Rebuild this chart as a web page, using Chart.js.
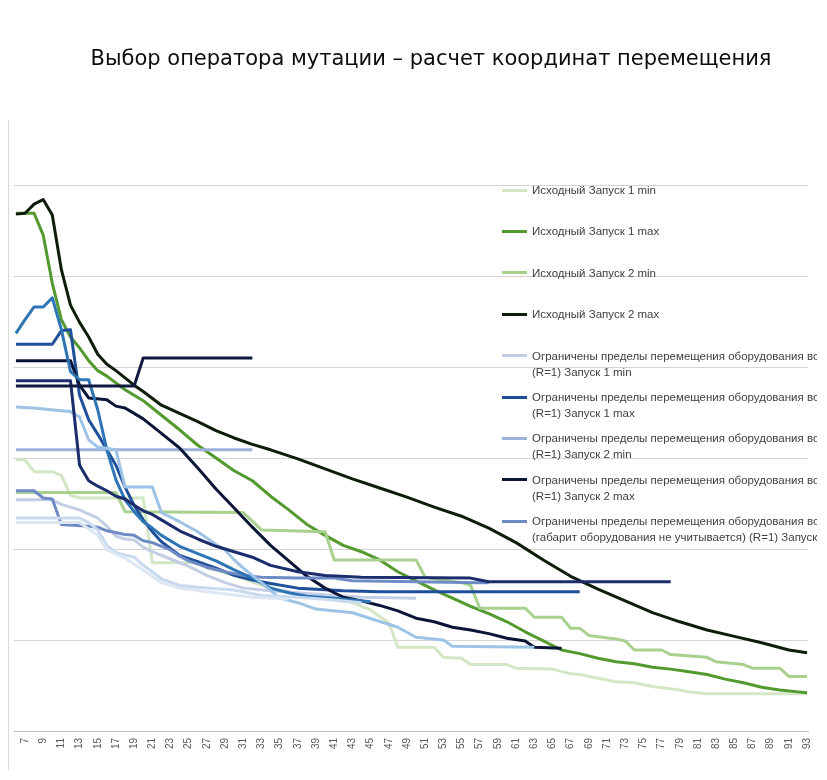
<!DOCTYPE html>
<html>
<head>
<meta charset="utf-8">
<script src="https://cdn.jsdelivr.net/npm/chart.js@4.4.1/dist/chart.umd.min.js"></script>
<style>
  html, body { margin: 0; padding: 0; background: #fff; }
  #wrap { position: relative; width: 827px; height: 780px; overflow: hidden; background: #fff; }
  #c { position: absolute; left: 0; top: 0; }
  #title { position: absolute; left: 0; width: 862px; top: 45px; text-align: center;
           font-family: "DejaVu Sans", sans-serif; font-size: 21px; line-height: 26px; color: #0d0d0d; white-space: nowrap; }
  #frame { position: absolute; left: 8px; top: 120px; width: 1px; height: 650px; background: #d9d9d9; }
  #legend { position: absolute; left: 502px; top: 170px; width: 315px; height: 400px; overflow: hidden; }
  .li { position: absolute; left: 0; width: 400px; }
  .sw { position: absolute; left: 0; width: 25px; height: 3px; }
  .tx { position: absolute; left: 30px; top: 0; font-family: "Liberation Sans", Arial, sans-serif; font-size: 11.5px;
        line-height: 16px; color: #404040; white-space: nowrap; }
</style>
</head>
<body>
<div id="wrap">
  <canvas id="c" width="827" height="780"></canvas>
  <div id="frame"></div>
  <div id="title">Выбор оператора мутации – расчет координат перемещения</div>
  <div id="legend"></div>
</div>
<script>
// ---- axis labels ----
const xTickLabels = [7,9,11,13,15,17,19,21,23,25,27,29,31,33,35,37,39,41,43,45,47,49,51,53,55,57,59,61,63,65,67,69,71,73,75,77,79,81,83,85,87,89,91,93];
const yGridValues = [0,10,20,30,40,50,60];

// ---- series names ----
const seriesNames = [
  "Исходный Запуск 1 min",
  "Исходный Запуск 1 max",
  "Исходный Запуск 2 min",
  "Исходный Запуск 2 max",
  "Ограничены пределы перемещения оборудования во всех направлениях (R=1) Запуск 1 min",
  "Ограничены пределы перемещения оборудования во всех направлениях (R=1) Запуск 1 max",
  "Ограничены пределы перемещения оборудования во всех направлениях (R=1) Запуск 2 min",
  "Ограничены пределы перемещения оборудования во всех направлениях (R=1) Запуск 2 max",
  "Ограничены пределы перемещения оборудования во всех направлениях (габарит оборудования не учитывается) (R=1) Запуск 1 min",
  "Ограничены пределы перемещения оборудования во всех направлениях (габарит оборудования не учитывается) (R=1) Запуск 1 max",
  "Ограничены пределы перемещения оборудования во всех направлениях (габарит оборудования не учитывается) (R=1) Запуск 2 min",
  "Ограничены пределы перемещения оборудования во всех направлениях (габарит оборудования не учитывается) (R=1) Запуск 2 max",
  "Ограничены пределы перемещения (R=2) Запуск 1 max",
  "Ограничены пределы перемещения (R=2) Запуск 1 min",
  "Ограничены пределы перемещения (R=2) Запуск 2 min"
];
const legendLines = [
  ["Исходный Запуск 1 min"],
  ["Исходный Запуск 1 max"],
  ["Исходный Запуск 2 min"],
  ["Исходный Запуск 2 max"],
  ["Ограничены пределы перемещения оборудования во всех направлениях", "(R=1) Запуск 1 min"],
  ["Ограничены пределы перемещения оборудования во всех направлениях", "(R=1) Запуск 1 max"],
  ["Ограничены пределы перемещения оборудования во всех направлениях", "(R=1) Запуск 2 min"],
  ["Ограничены пределы перемещения оборудования во всех направлениях", "(R=1) Запуск 2 max"],
  ["Ограничены пределы перемещения оборудования во всех направлениях", "(габарит оборудования не учитывается) (R=1) Запуск 1 min"]
];
const seriesColors = ["#d3e6c5","#539a2e","#a9d18e","#0e1d0a","#c3cee6","#1f4e9a","#9cb2d8","#0b1538","#6f8bc6","#2e75b6","#9dc3e6","#1c2d6e","#10183f","#c9daf0","#dce7f4"];

// ---- series values (generation x, value y) ----
const ish1MinX = [6,7,8,10,11,12,13,20,21,26,27,30,33,36,40,43,45,47,48,52,53,55,56,60,61,65,67,68,71,72,74,76,79,80,82,93];
const ish1MinY = [29.8,29.8,28.5,28.5,28.1,25.9,25.6,25.6,18.5,18.5,17.9,17.1,16.0,15.3,14.6,14.1,13.3,11.9,9.2,9.2,8.1,8.0,7.3,7.3,6.9,6.8,6.3,6.2,5.6,5.4,5.3,4.9,4.5,4.3,4.1,4.1];

const ish1MaxX = [6,8,9,10,11,12,13,14,15,16,18,20,22,24,26,28,30,32,34,36,38,40,42,44,46,48,50,52,54,56,58,60,62,64,66,68,70,72,74,76,78,80,82,84,86,88,90,92,93];
const ish1MaxY = [56.9,56.9,54.5,49.2,45.2,43.3,42.1,40.7,39.6,39.0,37.5,36.3,34.7,33.1,31.4,30.0,28.6,27.5,25.8,24.3,22.7,21.5,20.4,19.7,18.8,17.5,16.5,15.5,14.6,13.7,12.9,12.0,10.9,9.9,8.9,8.5,8.0,7.6,7.4,7.0,6.8,6.5,6.2,5.7,5.3,4.8,4.5,4.3,4.2];

const ish2MinX = [6,17,18,31,33,40,41,50,51,55,56,57,62,63,66,67,68,69,72,73,74,77,78,82,83,86,87,90,91,93];
const ish2MinY = [26.2,26.2,24.1,24.0,22.1,21.9,18.8,18.8,16.9,16.3,16.0,13.5,13.5,12.5,12.5,11.3,11.3,10.5,10.1,9.9,8.9,8.9,8.4,8.1,7.6,7.3,6.9,6.9,6.0,6.0];

const ish2MaxX = [6,7,8,9,10,11,12,13,14,15,16,17,18,19,20,22,24,26,28,30,32,34,37,40,43,46,49,52,55,58,61,64,67,70,73,76,79,82,85,88,91,93];
const ish2MaxY = [56.8,56.9,57.9,58.4,56.7,50.7,46.8,44.9,43.3,41.4,40.3,39.6,38.8,38.0,37.3,35.8,34.9,34.0,33.0,32.2,31.5,30.9,29.9,28.8,27.7,26.7,25.7,24.6,23.6,22.3,20.7,18.8,17.0,15.6,14.3,13.0,12.0,11.1,10.4,9.7,8.9,8.6];

const ogr1MinX = [6,10,11,13,15,16,17,18,19,20,21,23,25,27,29,31,34,38,44,50];
const ogr1MinY = [25.4,25.4,24.9,24.3,23.4,22.5,21.4,21.1,21.0,20.2,19.7,18.9,18.1,17.1,16.3,15.7,15.4,15.1,14.7,14.6];

const ogr1MaxX = [6,10,11,12,13,14,15,16,17,18,19,20,21,22,24,26,28,30,32,34,37,42,46,68];
const ogr1MaxY = [42.5,42.5,44.0,44.1,36.9,34.2,32.6,30.9,29.2,26.8,24.8,23.2,21.9,20.8,19.3,18.6,17.9,17.1,16.6,16.2,15.7,15.4,15.3,15.3];

const ogr2MinX = [6,32];
const ogr2MinY = [30.9,30.9];

const ogr2MaxX = [6,12,13,14,16,17,18,19,20,22,24,26,28,30,32,34,36,38,40,42,44,46,48,50,52,54,56,58,60,62,63,66];
const ogr2MaxY = [40.7,40.7,38.0,36.6,36.4,35.7,35.5,34.9,34.3,32.7,31.1,28.9,26.6,24.5,22.4,20.4,18.7,17.0,15.7,14.7,14.3,13.8,13.2,12.4,12.0,11.4,11.1,10.7,10.2,9.9,9.2,9.1];

const gab1MinX = [6,8,9,10,11,14,15,16,18,19,20,21,23,24,25,27,29,31,33,37,41,43,57,58];
const gab1MinY = [26.4,26.4,25.6,25.5,22.7,22.5,22.4,22.0,21.6,21.5,20.9,20.7,19.9,19.2,18.7,18.0,17.5,17.1,16.9,16.8,16.8,16.5,16.3,16.3];

const gab1MaxX = [6,7,8,9,10,11,12,13,14,15,16,17,18,19,20,21,22,24,26,28,30,32,34,36,38,41,45];
const gab1MaxY = [43.7,45.2,46.6,46.6,47.6,44.1,39.5,38.6,38.6,35.3,30.9,27.6,25.4,24.1,23.0,22.3,21.5,20.3,19.5,18.7,17.7,16.8,15.7,15.2,14.8,14.6,14.2];

const gab2MinX = [6,8,11,12,13,14,15,17,18,21,22,24,26,28,29,30,31,33,35,37,39,43,48,50,53,54,63];
const gab2MinY = [35.6,35.5,35.2,35.1,34.5,32.0,31.2,30.9,26.8,26.8,24.0,23.0,21.9,20.5,19.9,18.8,17.9,16.3,14.6,14.1,13.4,13.0,11.4,10.3,10.0,9.3,9.2];

const gab2MaxX = [6,12,13,14,15,16,17,18,19,20,21,22,24,26,28,30,32,34,37,40,44,56,57,58,78];
const gab2MaxY = [38.5,38.5,29.2,27.5,26.9,26.4,25.8,25.5,24.8,24.2,23.8,23.2,22.0,21.1,20.3,19.7,19.1,18.2,17.5,17.1,16.9,16.8,16.6,16.4,16.4];

const r2Max1X = [6,19,20,32];
const r2Max1Y = [37.9,37.9,41.0,41.0];

const r2Min1X = [6,13,14,15,16,17,19,20,21,22,24,26,30,33,37,41,44];
const r2Min1Y = [23.4,23.4,22.9,22.1,20.4,19.6,19.1,18.2,17.5,16.7,16.0,15.8,15.5,14.9,14.7,14.4,14.1];

const r2Min2X = [6,13,15,16,18,20,22,24,27,32,36];
const r2Min2Y = [22.9,22.9,21.5,19.9,19.0,17.7,16.3,15.7,15.3,14.7,14.5];

const seriesX = [ish1MinX, ish1MaxX, ish2MinX, ish2MaxX, ogr1MinX, ogr1MaxX, ogr2MinX, ogr2MaxX, gab1MinX, gab1MaxX, gab2MinX, gab2MaxX, r2Max1X, r2Min1X, r2Min2X];
const seriesY = [ish1MinY, ish1MaxY, ish2MinY, ish2MaxY, ogr1MinY, ogr1MaxY, ogr2MinY, ogr2MaxY, gab1MinY, gab1MaxY, gab2MinY, gab2MaxY, r2Max1Y, r2Min1Y, r2Min2Y];

const datasets = seriesNames.map((name, i) => ({
  label: name,
  data: seriesX[i].map((x, k) => ({ x: x, y: seriesY[i][k] })),
  borderColor: seriesColors[i],
  backgroundColor: seriesColors[i],
  borderWidth: 3,
  pointRadius: 0,
  tension: 0,
  fill: false,
  borderJoinStyle: 'round',
  order: -i
}));

new Chart(document.getElementById('c'), {
  type: 'line',
  data: { datasets: datasets },
  options: {
    responsive: false,
    animation: false,
    events: [],
    layout: { padding: { left: 14, right: 19, top: 185, bottom: 0 } },
    plugins: { legend: { display: false }, title: { display: false }, tooltip: { enabled: false } },
    scales: {
      x: {
        type: 'linear',
        min: 5.79,
        max: 93.1,
        grid: { display: false, drawTicks: false },
        border: { display: true, color: '#bfbfbf', width: 1 },
        afterBuildTicks: s => { s.ticks = xTickLabels.map(v => ({ value: v })); },
        afterFit: s => { s.height = 49; },
        ticks: {
          autoSkip: false, minRotation: 90, maxRotation: 90, padding: 7,
          color: '#595959', font: { family: 'Liberation Sans', size: 10 },
          callback: v => String(v)
        }
      },
      y: {
        type: 'linear',
        min: 0,
        max: 60,
        afterBuildTicks: s => { s.ticks = yGridValues.map(v => ({ value: v })); },
        afterFit: s => { s.width = 0; },
        ticks: { display: false },
        grid: { color: '#d4d4d4', lineWidth: 1, drawTicks: false },
        border: { display: false }
      }
    }
  }
});

// ---- legend (HTML text) ----
const legend = document.getElementById('legend');
const legendTop = 170;
legendLines.forEach((lines, i) => {
  const cy = 190 + i * 41.4 - legendTop;
  const li = document.createElement('div');
  li.className = 'li';
  li.style.top = (cy - 8) + 'px';
  const sw = document.createElement('div');
  sw.className = 'sw';
  sw.style.top = '6.5px';
  sw.style.background = seriesColors[i];
  li.appendChild(sw);
  const tx = document.createElement('div');
  tx.className = 'tx';
  tx.innerHTML = lines.join('<br>');
  li.appendChild(tx);
  legend.appendChild(li);
});
</script>
</body>
</html>
